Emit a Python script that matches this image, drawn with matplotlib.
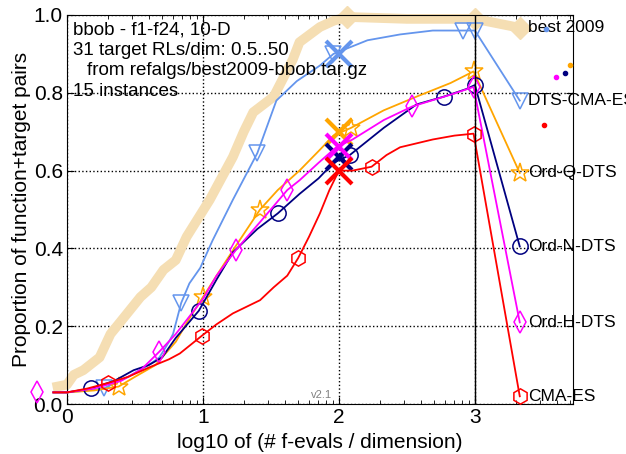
import matplotlib.pyplot as plt
import numpy as np

plt.rcParams['font.family'] = ['Liberation Sans', 'DejaVu Sans']

# best 2009 reference
best_x = [-0.07, 0.0, 0.05, 0.12, 0.24, 0.32, 0.39, 0.54, 0.62, 0.71, 0.80, 0.88, 1.05, 1.22, 1.30, 1.37, 1.52, 1.66, 1.71, 1.86, 1.96, 2.06, 2.5, 3.0, 3.33]
best_y = [0.045, 0.05, 0.075, 0.087, 0.12, 0.18, 0.21, 0.275, 0.30, 0.345, 0.37, 0.43, 0.525, 0.635, 0.70, 0.75, 0.79, 0.885, 0.93, 0.969, 0.985, 0.995, 0.99, 0.99, 0.967]
best_marks = [21, 23, 24]

dts_x = [-0.1, 0.0, 0.15, 0.27, 0.45, 0.6, 0.68, 0.75, 0.78, 0.84, 0.9, 0.98, 1.07, 1.22, 1.4, 1.54, 1.69, 1.86, 1.96, 2.21, 2.45, 2.69, 2.91, 3.0, 3.33]
dts_y = [0.03, 0.03, 0.035, 0.04, 0.07, 0.1, 0.12, 0.16, 0.18, 0.26, 0.31, 0.35, 0.42, 0.525, 0.645, 0.78, 0.83, 0.87, 0.90, 0.935, 0.95, 0.96, 0.96, 0.96, 0.78]
dts_marks = [3, 9, 14, 18, 22, 23, 24]

ordq_x = [-0.1, 0.0, 0.2, 0.38, 0.5, 0.65, 0.8, 0.9, 1.0, 1.1, 1.22, 1.42, 1.55, 1.71, 1.85, 1.96, 2.09, 2.33, 2.57, 2.82, 2.99, 3.33]
ordq_y = [0.03, 0.03, 0.035, 0.045, 0.07, 0.1, 0.16, 0.22, 0.275, 0.33, 0.395, 0.5, 0.55, 0.6, 0.65, 0.69, 0.71, 0.755, 0.79, 0.825, 0.855, 0.594]
ordq_marks = [3, 8, 11, 16, 20, 21]

ordn_x = [-0.1, 0.0, 0.18, 0.35, 0.49, 0.6, 0.7, 0.8, 0.97, 1.1, 1.22, 1.4, 1.55, 1.71, 1.85, 1.96, 2.08, 2.33, 2.57, 2.77, 2.94, 3.0, 3.33]
ordn_y = [0.03, 0.03, 0.04, 0.06, 0.087, 0.1, 0.12, 0.17, 0.24, 0.32, 0.39, 0.45, 0.49, 0.54, 0.58, 0.62, 0.64, 0.71, 0.77, 0.79, 0.81, 0.82, 0.405]
ordn_marks = [2, 8, 12, 16, 19, 21, 22]

ordh_x = [-0.1, 0.0, 0.2, 0.4, 0.55, 0.68, 0.8, 1.0, 1.1, 1.24, 1.45, 1.62, 1.71, 1.85, 1.98, 2.1, 2.33, 2.54, 2.82, 2.99, 3.33]
ordh_y = [0.03, 0.03, 0.04, 0.06, 0.09, 0.135, 0.18, 0.27, 0.33, 0.395, 0.48, 0.55, 0.575, 0.62, 0.66, 0.68, 0.73, 0.765, 0.795, 0.815, 0.21]
ordh_marks = [5, 9, 11, 17, 19, 20]
ordh_start = (-0.22, 0.03)

cma_x = [-0.1, 0.0, 0.15, 0.3, 0.45, 0.61, 0.75, 0.83, 0.99, 1.1, 1.22, 1.42, 1.52, 1.62, 1.70, 1.78, 1.86, 1.93, 2.0, 2.1, 2.24, 2.35, 2.45, 2.69, 2.85, 2.99, 3.33]
cma_y = [0.03, 0.03, 0.04, 0.054, 0.07, 0.095, 0.115, 0.13, 0.175, 0.205, 0.233, 0.267, 0.30, 0.33, 0.375, 0.43, 0.49, 0.55, 0.60, 0.60, 0.61, 0.64, 0.66, 0.68, 0.69, 0.695, 0.02]
cma_marks = [3, 8, 14, 20, 25, 26]

# big crosses at x=2 and small dots right of the frame
cross_y = [0.90, 0.70, 0.635, 0.66, 0.60]
dot_x = [3.52, 3.70, 3.66, 3.60, 3.51]
dot_y = [0.964, 0.871, 0.85, 0.841, 0.717]

names = ['DTS-CMA-ES', 'Ord-Q-DTS', 'Ord-N-DTS', 'Ord-H-DTS', 'CMA-ES']
colors = ['#6495ED', '#FFA500', '#000080', '#FF00FF', '#FF0000']
markers = ['v', '*', 'o', 'd', 'h']
xs = [dts_x, ordq_x, ordn_x, ordh_x, cma_x]
ys = [dts_y, ordq_y, ordn_y, ordh_y, cma_y]
marks = [dts_marks, ordq_marks, ordn_marks, ordh_marks, cma_marks]

fig = plt.figure(figsize=(6.26, 4.54), dpi=100)
ax = fig.add_axes([0.107, 0.110, 0.808, 0.857])

ax.plot(best_x, best_y, color='#F5DEB3', lw=7, marker='D', ms=11,
        markevery=best_marks, clip_on=False, zorder=2)
ax.text(3.39, best_y[-1], 'best 2009', fontsize=12.5, va='center', ha='left')

for i in range(len(names)):
    ax.plot(xs[i], ys[i], color=colors[i], lw=1.3, marker=markers[i],
            ms=14 if markers[i] == '*' else 11, mfc='none', mec=colors[i], mew=1.1,
            markevery=marks[i], clip_on=False, zorder=3 + i)
    ax.plot(2.0, cross_y[i], marker='x', ms=19, mew=3, color=colors[i], zorder=3 + i)
    ax.plot(dot_x[i], dot_y[i], marker='o', ms=3, color=colors[i], clip_on=False, zorder=3 + i)
    ax.text(3.39, ys[i][-1], names[i], fontsize=12.5, va='center', ha='left')

ax.plot(*ordh_start, marker='d', ms=11, mfc='none', mec='#FF00FF', mew=1.1, clip_on=False)

ax.axvline(3.0, color='k', lw=1, zorder=10)

ax.set_xlim(0, 3.72)
ax.set_ylim(0, 1.0)
ax.set_xticks([0, 1, 2, 3])
ax.set_yticks([0, 0.2, 0.4, 0.6, 0.8, 1.0])
ax.set_yticklabels(['0.0', '0.2', '0.4', '0.6', '0.8', '1.0'])
minor = [n + np.log10(k) for n in range(4) for k in range(2, 10) if n + np.log10(k) < 3.72]
ax.set_xticks(minor, minor=True)
ax.tick_params(which='both', direction='in', top=True, right=True, labelsize=15)
ax.tick_params(which='major', length=5, pad=3)
ax.tick_params(which='minor', length=3)
ax.grid(which='major', color='k', linestyle=':', lw=1)

ax.set_xlabel('log10 of (# f-evals / dimension)', fontsize=15, labelpad=4)
ax.set_ylabel('Proportion of function+target pairs', fontsize=15, labelpad=2)

tx = ax.transAxes
ax.text(0.012, 0.949, 'bbob - f1-f24, 10-D', fontsize=13.5, transform=tx, va='baseline')
ax.text(0.012, 0.897, '31 target RLs/dim: 0.5..50', fontsize=13.5, transform=tx, va='baseline')
ax.text(0.040, 0.846, 'from refalgs/best2009-bbob.tar.gz', fontsize=13.5, transform=tx, va='baseline')
ax.text(0.012, 0.792, '15 instances', fontsize=13.5, transform=tx, va='baseline')
ax.text(1.95, 0.01, 'v2.1', fontsize=8, color='gray', ha='right', va='bottom')

plt.savefig('out.png')
